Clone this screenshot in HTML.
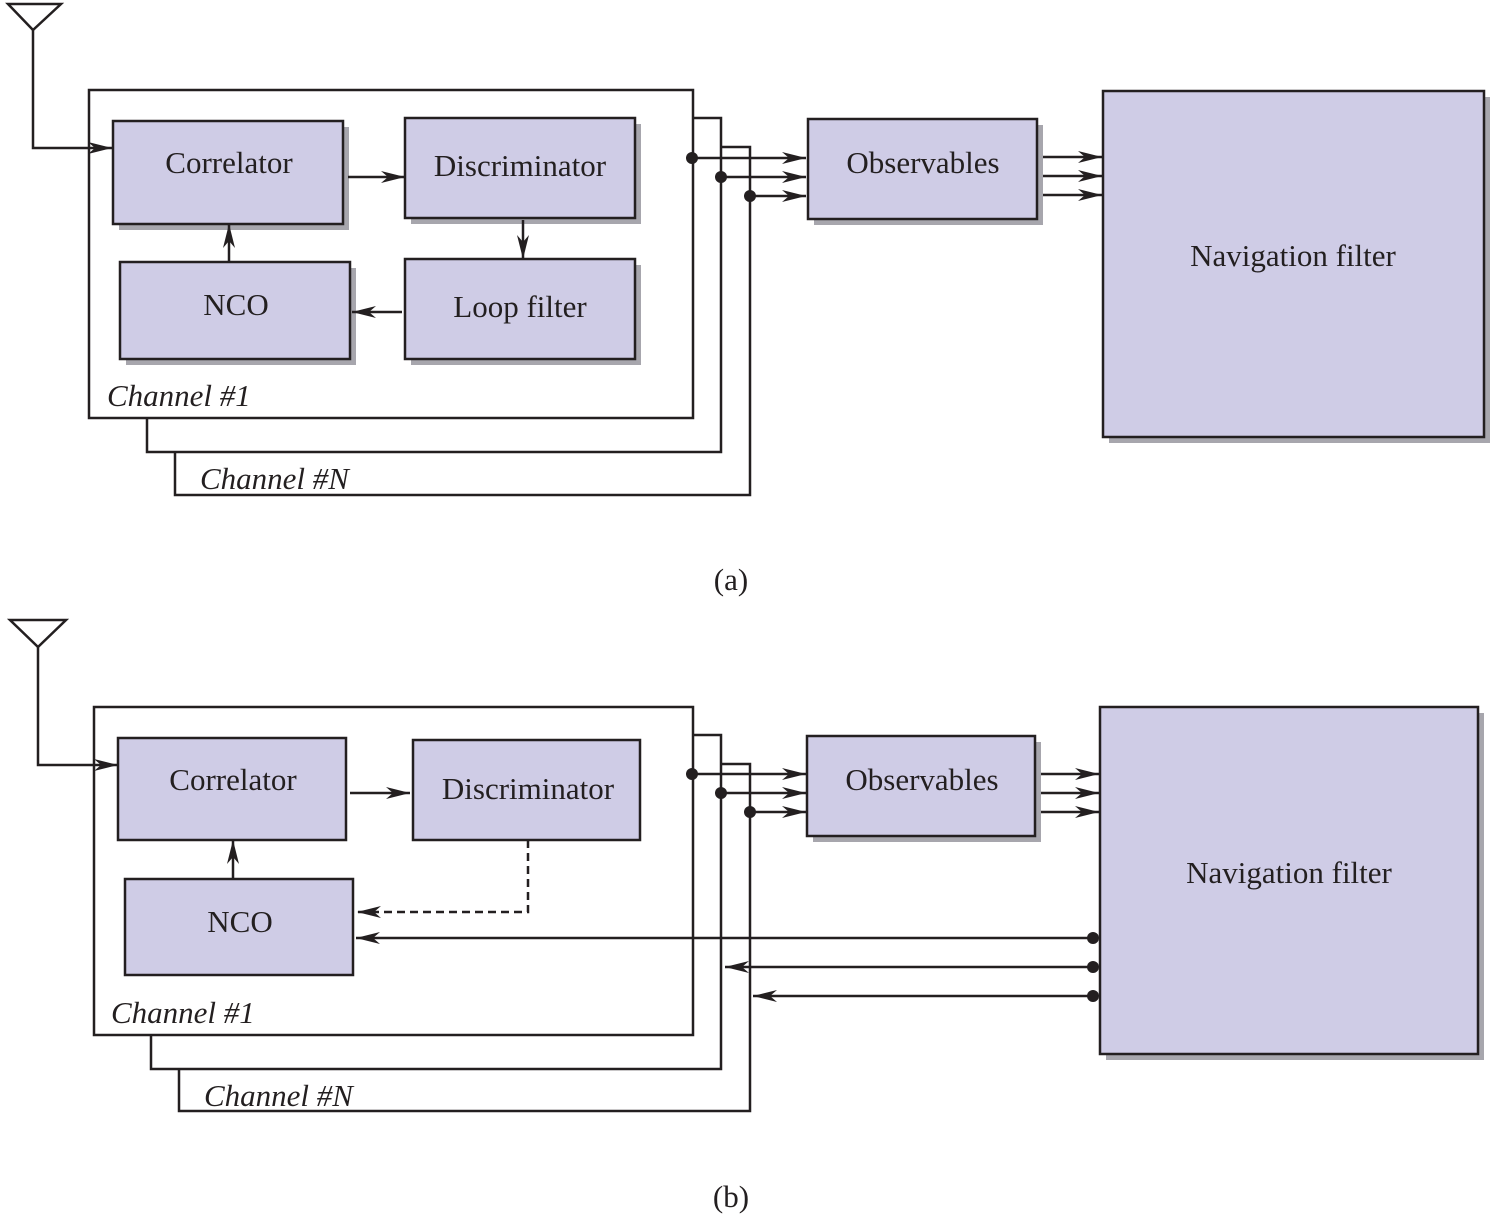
<!DOCTYPE html>
<html><head><meta charset="utf-8"><style>body{margin:0;background:#fff}svg{display:block}</style></head><body>
<svg width="1494" height="1219" viewBox="0 0 1494 1219" xmlns="http://www.w3.org/2000/svg" font-family="Liberation Serif, serif" font-size="31" fill="#231f20">
<defs>
<marker id="ar" viewBox="0 0 24 12" refX="24" refY="6" markerWidth="24" markerHeight="12" markerUnits="userSpaceOnUse" orient="auto"><path d="M0,0 L24,6 L0,12 L7,6 Z" fill="#231f20"/></marker>
</defs>
<g stroke="#231f20" stroke-width="2.5" fill="none">
<!-- (a) -->
<rect x="89" y="90" width="604" height="328" fill="#fff"/>
<path d="M8,4 H61 L33,30 Z"/>
<path d="M33,30 V148 H112" marker-end="url(#ar)"/>
<path d="M693,118 H721 V452 H147 V418"/>
<path d="M721,147 H750 V495 H175 V452"/>
</g>
<g fill="#a7a6ad">
<rect x="119" y="127" width="230" height="103"/><rect x="411" y="124" width="230" height="100"/>
<rect x="126" y="268" width="230" height="97"/><rect x="411" y="265" width="230" height="100"/>
<rect x="814" y="125" width="229" height="100"/><rect x="1109" y="97" width="381" height="346"/>
<rect x="124" y="744" width="228" height="102"/><rect x="419" y="746" width="227" height="100"/>
<rect x="131" y="885" width="228" height="96"/><rect x="813" y="742" width="228" height="100"/>
<rect x="1106" y="713" width="378" height="347"/>
</g>
<g stroke="#231f20" stroke-width="2.5" fill="#cfcce6">
<rect x="113" y="121" width="230" height="103"/><rect x="405" y="118" width="230" height="100"/>
<rect x="120" y="262" width="230" height="97"/><rect x="405" y="259" width="230" height="100"/>
<rect x="808" y="119" width="229" height="100"/><rect x="1103" y="91" width="381" height="346"/>
</g>
<g stroke="#231f20" stroke-width="2.5" fill="none" marker-end="url(#ar)">
<path d="M348,177 H405"/><path d="M523,220 V259"/><path d="M402,312 H352"/><path d="M229,262 V224"/>
<path d="M692,158 H806"/><path d="M721,177 H806"/><path d="M750,196 H806"/>
<path d="M1043,157 H1102"/><path d="M1043,176 H1102"/><path d="M1043,195 H1102"/>
</g>
<g fill="#231f20"><circle cx="692" cy="158" r="6"/><circle cx="721" cy="177" r="6"/><circle cx="750" cy="196" r="6"/></g>
<g text-anchor="middle">
<text x="229" y="173">Correlator</text><text x="520" y="176">Discriminator</text>
<text x="236" y="315">NCO</text><text x="520" y="317">Loop filter</text>
<text x="923" y="173">Observables</text><text x="1293" y="266">Navigation filter</text>
<text x="731" y="590">(a)</text>
</g>
<text x="107" y="406" font-style="italic">Channel #1</text>
<text x="200" y="489" font-style="italic">Channel #N</text>

<!-- (b) -->
<g stroke="#231f20" stroke-width="2.5" fill="none">
<rect x="94" y="707" width="599" height="328" fill="#fff"/>
<path d="M10,620 H66 L38,647 Z"/>
<path d="M38,647 V765 H118" marker-end="url(#ar)"/>
<path d="M693,735 H721 V1069 H151 V1035"/>
<path d="M721,764 H750 V1111 H179 V1069"/>
</g>
<g stroke="#231f20" stroke-width="2.5" fill="#cfcce6">
<rect x="118" y="738" width="228" height="102"/><rect x="413" y="740" width="227" height="100"/>
<rect x="125" y="879" width="228" height="96"/><rect x="807" y="736" width="228" height="100"/>
<rect x="1100" y="707" width="378" height="347"/>
</g>
<g stroke="#231f20" stroke-width="2.5" fill="none" marker-end="url(#ar)">
<path d="M350,793 H410"/><path d="M233,879 V840"/>
<path d="M528,840 V912 H357" stroke-dasharray="8,5"/>
<path d="M692,774 H806"/><path d="M721,793 H806"/><path d="M750,812 H806"/>
<path d="M1041,774 H1099"/><path d="M1041,793 H1099"/><path d="M1041,812 H1099"/>
<path d="M1093,938 H356"/><path d="M1093,967 H725"/><path d="M1093,996 H753"/>
</g>
<g fill="#231f20"><circle cx="692" cy="774" r="6"/><circle cx="721" cy="793" r="6"/><circle cx="750" cy="812" r="6"/>
<circle cx="1093" cy="938" r="6"/><circle cx="1093" cy="967" r="6"/><circle cx="1093" cy="996" r="6"/></g>
<g text-anchor="middle">
<text x="233" y="790">Correlator</text><text x="528" y="799">Discriminator</text>
<text x="240" y="932">NCO</text><text x="922" y="790">Observables</text>
<text x="1289" y="883">Navigation filter</text>
<text x="731" y="1207">(b)</text>
</g>
<text x="111" y="1023" font-style="italic">Channel #1</text>
<text x="204" y="1106" font-style="italic">Channel #N</text>
</svg>
</body></html>
